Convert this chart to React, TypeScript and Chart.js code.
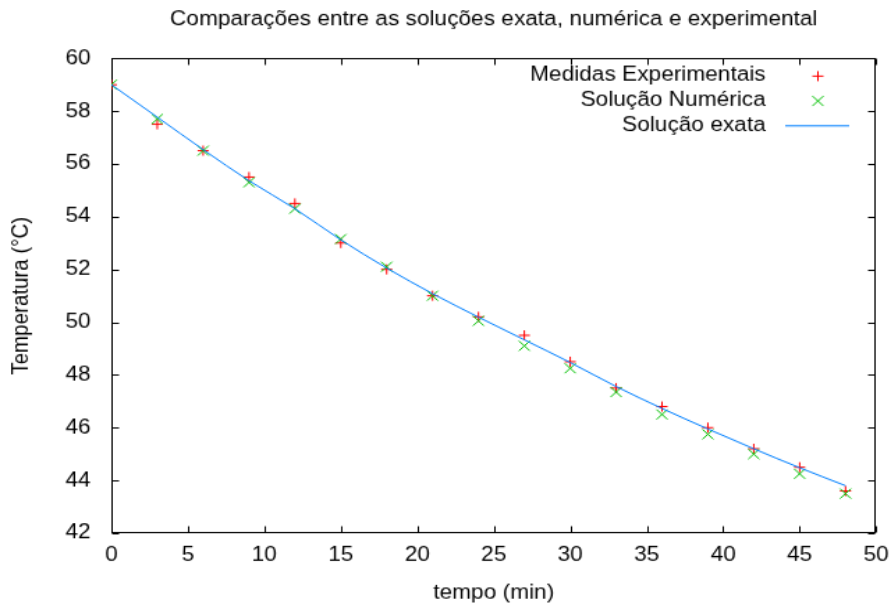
import React, { useEffect, useRef } from 'react';
import { Chart, registerables } from 'chart.js';

Chart.register(...registerables);

// ---- data ----
const TITLE = 'Comparações entre as soluções exata, numérica e experimental';
const X_LABEL = 'tempo (min)';
const Y_LABEL = 'Temperatura (°C)';
const seriesLabels = ['Medidas Experimentais', 'Solução Numérica', 'Solução exata'];

const times = [0, 3, 6, 9, 12, 15, 18, 21, 24, 27, 30, 33, 36, 39, 42, 45, 48];
const experimental = [59.0, 57.5, 56.5, 55.5, 54.5, 53.0, 52.0, 51.0, 50.2, 49.5, 48.5, 47.5, 46.8, 46.0, 45.2, 44.5, 43.6];
const numerical = [59.0, 57.7, 56.5, 55.3, 54.3, 53.15, 52.1, 51.0, 50.05, 49.1, 48.25, 47.35, 46.5, 45.75, 45.0, 44.25, 43.5];
const exact = [59.0, 57.77, 56.54, 55.36, 54.3, 53.12, 52.05, 51.08, 50.19, 49.33, 48.47, 47.56, 46.73, 45.95, 45.2, 44.48, 43.8];

const xMin = 0, xMax = 50, xStep = 5;
const yMin = 42, yMax = 60, yStep = 2;

// ---- styling ----
const FONT = '"Liberation Sans", Arial, sans-serif';
const FS = 16.3;
const W = 640, H = 480;
const SX = 891 / 640, SY = 605 / 480;

const toPoints = (ys: number[]) => times.map((t, i) => ({ x: t, y: ys[i] }));

const framePlugin = {
  id: 'gpFrame',
  beforeDatasetsDraw(chart: any) {
    const { ctx, chartArea: a, scales } = chart;
    const L = Math.round(a.left) + 0.5, R = Math.round(a.right) - 0.5;
    const T = Math.round(a.top) + 0.5, B = Math.round(a.bottom) - 0.5;
    const len = 5;
    ctx.save();
    ctx.strokeStyle = '#000';
    ctx.lineWidth = 1;
    ctx.strokeRect(L, T, R - L, B - T);
    ctx.beginPath();
    scales.x.ticks.forEach((t: any) => {
      const px = Math.round(scales.x.getPixelForValue(t.value)) + 0.5;
      ctx.moveTo(px, B); ctx.lineTo(px, B - len);
      ctx.moveTo(px, T); ctx.lineTo(px, T + len);
    });
    scales.y.ticks.forEach((t: any) => {
      const py = Math.round(scales.y.getPixelForValue(t.value)) + 0.5;
      ctx.moveTo(L, py); ctx.lineTo(L + len, py);
      ctx.moveTo(R, py); ctx.lineTo(R - len, py);
    });
    ctx.stroke();
    ctx.restore();
  },
};

const legendPlugin = {
  id: 'gpLegend',
  afterDatasetsDraw(chart: any) {
    const { ctx } = chart;
    const textRight = 550, symX = 587.5, lineX0 = 564, lineX1 = 610;
    const y0 = 60.4, dy = 19.7;
    ctx.save();
    chart.data.datasets.forEach((ds: any, i: number) => {
      const y = y0 + i * dy;
      ctx.fillStyle = '#000';
      ctx.font = `${FS}px ${FONT}`;
      ctx.textAlign = 'right';
      ctx.textBaseline = 'middle';
      ctx.fillText(ds.label, textRight, y - 0.6);
      ctx.strokeStyle = ds.borderColor;
      ctx.lineWidth = 1;
      ctx.beginPath();
      if (ds.showLine) {
        ctx.moveTo(lineX0, y); ctx.lineTo(lineX1, y);
      } else if (ds.pointStyle === 'cross') {
        const r = ds.pointRadius;
        ctx.moveTo(symX - r, y); ctx.lineTo(symX + r, y);
        ctx.moveTo(symX, y - r); ctx.lineTo(symX, y + r);
      } else {
        const r = ds.pointRadius * Math.SQRT1_2;
        ctx.moveTo(symX - r, y - r); ctx.lineTo(symX + r, y + r);
        ctx.moveTo(symX - r, y + r); ctx.lineTo(symX + r, y - r);
      }
      ctx.stroke();
    });
    ctx.restore();
  },
};

export default function App() {
  const ref = useRef<HTMLCanvasElement>(null);

  useEffect(() => {
    const chart = new Chart(ref.current as HTMLCanvasElement, {
      type: 'line',
      data: {
        datasets: [
          {
            label: seriesLabels[0],
            data: toPoints(experimental),
            showLine: false,
            pointStyle: 'cross',
            pointRadius: 4,
            pointBorderWidth: 1,
            borderColor: '#ff0000',
            backgroundColor: '#ff0000',
            borderWidth: 1,
            order: 2,
          },
          {
            label: seriesLabels[1],
            data: toPoints(numerical),
            showLine: false,
            pointStyle: 'crossRot',
            pointRadius: 5.6,
            pointBorderWidth: 1,
            borderColor: '#00c000',
            backgroundColor: '#00c000',
            borderWidth: 1,
            order: 1,
          },
          {
            label: seriesLabels[2],
            data: toPoints(exact),
            showLine: true,
            pointRadius: 0,
            borderColor: '#0080ff',
            backgroundColor: '#0080ff',
            borderWidth: 1,
            cubicInterpolationMode: 'monotone',
            fill: false,
            order: 0,
          },
        ] as any,
      },
      options: {
        responsive: false,
        animation: false,
        devicePixelRatio: 1,
        layout: { padding: { left: 0, right: 0, top: 0, bottom: 0 } },
        plugins: {
          legend: { display: false },
          tooltip: { enabled: false },
          title: {
            display: true,
            fullSize: false,
            text: TITLE,
            color: '#000',
            font: { family: FONT, size: FS, weight: 'normal' as any, lineHeight: 1.2 },
            padding: { top: 5.3, bottom: 21.4 },
          },
        },
        scales: {
          x: {
            type: 'linear',
            min: xMin,
            max: xMax,
            ticks: {
              stepSize: xStep,
              padding: 8,
              color: '#000',
              maxRotation: 0,
              font: { family: FONT, size: FS, lineHeight: 1.2 },
            },
            grid: { display: false, drawTicks: false },
            border: { display: false },
            title: {
              display: true,
              text: X_LABEL,
              color: '#000',
              font: { family: FONT, size: FS, lineHeight: 1.2 },
              padding: { top: 0, bottom: 0 },
            },
            afterFit(s: any) {
              s.height = 57;
              s.paddingLeft = 0;
              s.paddingRight = 10.7;
            },
          },
          y: {
            type: 'linear',
            min: yMin,
            max: yMax,
            ticks: {
              stepSize: yStep,
              padding: 15,
              color: '#000',
              font: { family: FONT, size: FS, lineHeight: 1.2 },
            },
            grid: { display: false, drawTicks: false },
            border: { display: false },
            title: {
              display: true,
              text: Y_LABEL,
              color: '#000',
              font: { family: FONT, size: FS, lineHeight: 1.2 },
              padding: { top: 6, bottom: 0 },
            },
            afterFit(s: any) { s.width = 80; },
          },
        },
      },
      plugins: [framePlugin, legendPlugin],
    });
    return () => chart.destroy();
  }, []);

  return (
    <div style={{ position: 'fixed', left: 0, top: 0, width: 891, height: 605, overflow: 'hidden', background: '#fff' }}>
      <div style={{ width: W, height: H, transform: `scale(${SX}, ${SY})`, transformOrigin: '0 0' }}>
        <canvas ref={ref} width={W} height={H} style={{ width: W, height: H, display: 'block' }} />
      </div>
    </div>
  );
}
